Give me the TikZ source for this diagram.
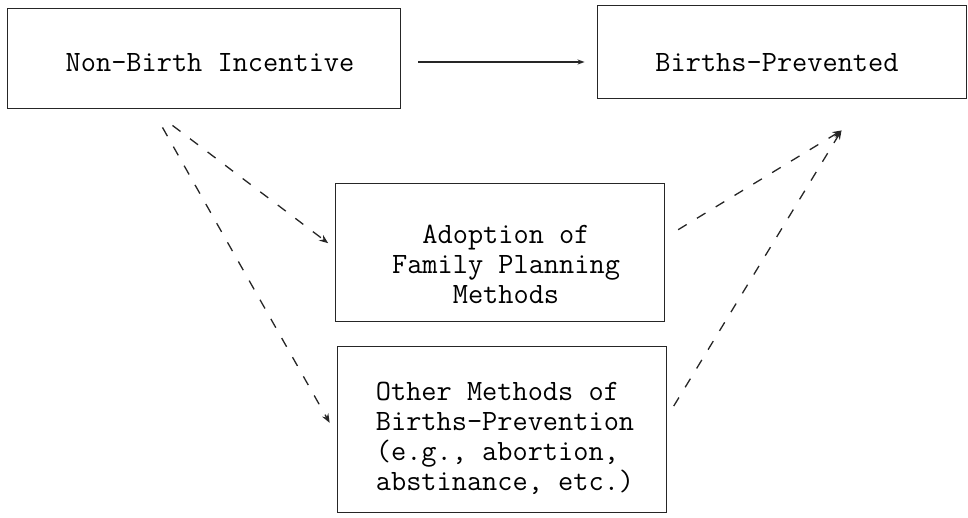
\documentclass[tikz,border=0pt]{standalone}
\usetikzlibrary{arrows.meta}
\begin{document}
\begin{tikzpicture}[x=1pt,y=-1pt,
  box/.style={draw=black!85, line width=0.9pt, rectangle, inner sep=0pt},
  txt/.style={font=\ttfamily\fontsize{29.5}{30}\selectfont, inner sep=0pt},
  dconn/.style={draw=black!85, line width=1.3pt, dash pattern=on 10pt off 12pt, -{Stealth[length=9pt,width=7pt]}},
  sconn/.style={draw=black!85, line width=1.3pt, -{Stealth[length=7pt,width=5pt]}}]
\useasboundingbox (0,0) rectangle (968,517);
\fill[white] (0,0) rectangle (968,517);
% boxes
\node[box, minimum width=393pt, minimum height=100pt] (nb) at (203.5,58) {};
\node[box, minimum width=369pt, minimum height=93pt] (bp) at (781.5,51.5) {};
\node[box, minimum width=329pt, minimum height=138pt] (ad) at (499.5,252) {};
\node[box, minimum width=329pt, minimum height=166pt] (ot) at (501.5,429) {};
% texts
\node[txt] (nbt) at (210,63) {Non-Birth Incentive};
\node[txt] (bpt) at (777,63) {Births-Prevented};
\node[txt, align=center] (adt) at (506,264) {Adoption of\\Family Planning\\Methods};
\node[txt, align=left] (ott) at (505,438) {Other Methods of\\Births-Prevention\\(e.g., abortion,\\abstinance, etc.)};
% connectors
\draw[sconn, shorten <=18pt, shorten >=12pt] ([yshift=-4pt]nb.east) -- ([yshift=-4pt]nb.east -| bp.west);
\draw[dconn, shorten >=8pt] ([shift={(-31,17)}]nb.south) -- ([yshift=4pt]ad.west);
\draw[dconn, shorten >=14pt] ([shift={(-41,19)}]nb.south) -- ([yshift=-6pt]ot.west);
\draw[dconn, shorten <=16pt] ([yshift=14pt]ad.east) -- ([shift={(60,32)}]bp.south);
\draw[dconn, shorten <=14pt] ([yshift=11pt]ot.east) -- ([shift={(60,32)}]bp.south);
\end{tikzpicture}
\end{document}
